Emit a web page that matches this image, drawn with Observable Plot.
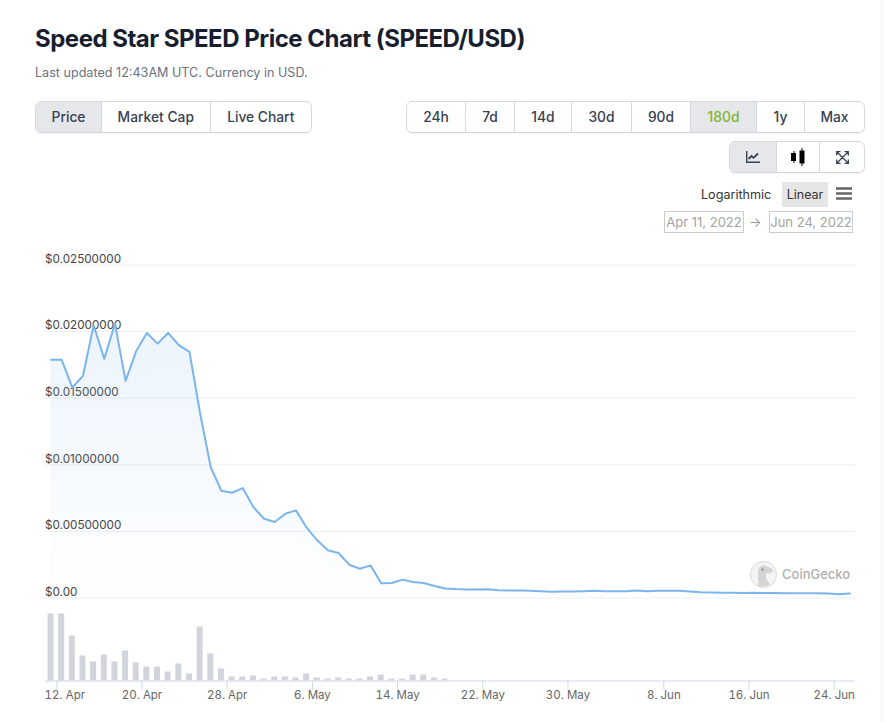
<!DOCTYPE html>
<html><head><meta charset="utf-8">
<script src="https://cdn.jsdelivr.net/npm/d3@7"></script>
<script src="https://cdn.jsdelivr.net/npm/@observablehq/plot@0.6"></script>
<style>
html,body{margin:0;padding:0;background:#fff;width:884px;height:722px;overflow:hidden;font-family:Inter,sans-serif;}
.a{position:absolute;white-space:nowrap;}
.grp{position:absolute;display:flex;box-sizing:border-box;height:32px;border:1px solid #d5d8df;border-radius:6px;overflow:hidden;box-shadow:0 1px 1px rgba(0,0,0,.04);background:#fff;}
.grp div{box-sizing:border-box;height:100%;display:flex;align-items:center;justify-content:center;font-size:13.8px;font-weight:500;color:#374151;border-right:1px solid #d5d8df;}
.grp div:last-child{border-right:none;}
.on{background:#e5e7eb;}
.date{position:absolute;box-sizing:border-box;top:211px;height:22px;border:1px solid #ccc;font-size:13px;color:#a3a3a3;text-align:center;line-height:20px;}
svg{display:block;}
</style></head><body>
<div class="a" style="left:35px;top:23px;font-size:24px;line-height:32px;font-weight:700;color:#171e2e;letter-spacing:-.5px">Speed Star SPEED Price Chart (SPEED/USD)</div>
<div class="a" style="left:35px;top:65px;font-size:12.6px;line-height:16px;color:#6b7280">Last updated 12:43AM UTC. Currency in USD.</div>

<div class="grp" style="left:35px;top:101px;width:277px">
<div class="on" style="width:66px">Price</div><div style="width:108.5px">Market Cap</div><div style="flex:1">Live Chart</div></div>

<div class="grp" style="left:406px;top:101px;width:459px">
<div style="width:59px">24h</div><div style="width:49px">7d</div><div style="width:57px">14d</div><div style="width:60px">30d</div><div style="width:59px">90d</div><div class="on" style="width:66px;color:#85b52f">180d</div><div style="width:48px">1y</div><div style="flex:1">Max</div></div>

<div class="grp" style="left:729px;top:141px;width:136px">
<div class="on" style="width:47px"><svg width="14" height="12" viewBox="0 0 14 12"><path d="M.7 0V11.3H14" fill="none" stroke="#374151" stroke-width="1.4"/><path d="M2.5 8 5.5 5 7.500 6.800 12 2.500" fill="none" stroke="#374151" stroke-width="1.800"/></svg></div>
<div style="width:43px"><svg width="15" height="18" viewBox="0 0 15 18"><path d="M3 3V15M11 0V18" stroke="#000" stroke-width="1"/><rect x="0" y="5" width="5" height="8" fill="#000"/><rect x="8.500" y="2.500" width="5" height="13" fill="#000"/></svg></div>
<div style="flex:1"><svg width="13" height="13" viewBox="0 0 13 13"><path d="M1 1 12 12M12 1 1 12M.7 4.500V.7H4.500M8.500.7H12.300V4.500M.7 8.500V12.300H4.500M8.500 12.300H12.300V8.500" fill="none" stroke="#374151" stroke-width="1.300"/></svg></div></div>

<div class="a" style="left:701px;top:186px;font-size:12.6px;line-height:17px;color:#333">Logarithmic</div>
<div class="a" style="left:782px;top:182px;width:46px;height:25px;background:#e6e6e6;font-size:12.5px;line-height:25px;text-align:center;color:#333">Linear</div>
<div class="a" style="left:836px;top:186.5px;width:16px;height:13px"><svg width="16" height="13"><path d="M0 1.500H16M0 6.500H16M0 11.500H16" stroke="#666" stroke-width="2.400"/></svg></div>
<div class="date" style="left:664px;width:80px">Apr 11, 2022</div>
<div class="a" style="left:749px;top:214px;font-size:13px;line-height:16px;color:#999">→</div>
<div class="date" style="left:769px;width:84px">Jun 24, 2022</div>

<div id="price" class="a" style="left:0;top:250px"></div>
<div id="volume" class="a" style="left:0;top:600px"></div>

<div class="a" style="left:750px;top:561px;width:27px;height:27px"><svg width="27" height="27" viewBox="0 0 27 27"><circle cx="13.500" cy="13.500" r="13" fill="#f4f4f4" stroke="#d8d8d8"/><path d="M8 25C9 17 7 11 9 7 11 4 15 4 17 6 20 6 23 8 23 10 22 12 18 12.500 16 12 15 16 17 20 20 23 16 26 11 26 8 25Z" fill="#d4d4d4"/><circle cx="12.500" cy="8.500" r="1.300" fill="#9a9a9a"/></svg></div>
<div class="a" style="left:782px;top:566px;font-size:13px;line-height:16px;color:#b0b0b0;font-weight:500">CoinGecko</div>
<div class="a" style="left:880px;top:0;width:4px;height:722px;background:#fafafa"></div>

<script>
const firstDay = "2022-04-11";
const lastDayExclusive = "2022-06-26";
const prices = [0.01788,0.01788,0.0158,0.01668,0.02048,0.01795,0.0206,0.0163,0.01855,0.0199,0.0191,0.0199,0.01898,0.01848,0.01385,0.0098,0.00805,0.0079,0.00825,
0.00683,0.00595,0.0057,0.00633,0.00658,0.00528,0.00433,0.00358,0.00338,0.0025,0.0022,0.00245,0.0011,0.00113,0.00138,0.0012,0.00113,0.0009,0.00072,0.00067,
0.00064,0.00064,0.00066,0.00059,0.00056,0.00056,0.00054,0.00051,0.00046,0.00049,0.00049,0.00051,0.00054,0.00051,0.00051,0.00051,0.00056,0.00051,0.00054,
0.00054,0.00055,0.00049,0.00043,0.00041,0.0004,0.00039,0.00037,0.00039,0.00038,0.00037,0.00036,0.00036,0.00036,0.00035,0.00034,0.00029,0.00033];
const volumes = [67,67,45,25,19,26,19,30,18,14,14,9,17,7,54,27,12,4,4,5,2,4,4,3,7,3,2,3,2,2,4,6,2,2,6,6,3,2];
const priceTicks = [0,0.005,0.01,0.015,0.02,0.025];
const xTickDays = ["2022-04-12","2022-04-20","2022-04-28","2022-05-06","2022-05-14","2022-05-22","2022-05-30","2022-06-08","2022-06-16","2022-06-24"];

const days = d3.utcDay.range(new Date(firstDay), new Date(lastDayExclusive));
const stamp = d => d3.utcHour.offset(d, 11);
const priceData = prices.map((p,i)=>({date:stamp(days[i]),price:p}));
const volumeData = volumes.map((v,i)=>({date:stamp(days[i]),volume:v}));
const xDomain = [new Date("2022-04-10T22:30:00Z"), new Date("2022-06-26T00:00:00Z")];
const xTicks = xTickDays.map(d=>new Date(d));
const fmtPrice = d => d===0 ? "$0.00" : "$"+d.toFixed(8);
const fmtDay = d3.utcFormat("%-d. %b");
const W = 884, ml = 45, mr = 29;
const gradient = () => {
  const defs = d3.create("svg:defs");
  const g = defs.append("linearGradient").attr("id","areaFill").attr("x1",0).attr("y1",0).attr("x2",0).attr("y2",1);
  g.append("stop").attr("offset","0%").attr("stop-color","#7cb5ec").attr("stop-opacity",0.15);
  g.append("stop").attr("offset","100%").attr("stop-color","#7cb5ec").attr("stop-opacity",0.005);
  return defs.node();
};
const base = {background:"transparent",fontFamily:"Inter,sans-serif",overflow:"visible"};

document.getElementById("price").append(Plot.plot({
  width:W,height:350,marginLeft:ml,marginRight:mr,marginTop:14.5,marginBottom:2.5,style:base,
  x:{type:"utc",domain:xDomain,axis:null},
  y:{domain:[0,0.025],axis:null},
  marks:[
    gradient,
    Plot.ruleY(priceTicks,{stroke:"#edeff2",strokeWidth:1}),
    Plot.text(priceTicks,{y:d=>d,text:fmtPrice,frameAnchor:"left",textAnchor:"start",dx:-0.5,dy:-6,fontSize:11.7,fill:"#444"}),
    Plot.areaY(priceData,{x:"date",y:"price",fill:"url(#areaFill)"}),
    Plot.line(priceData,{x:"date",y:"price",stroke:"#7cb5ec",strokeWidth:2})
  ]
}));

const halfBar = 13.5*3600*1000/2;
document.getElementById("volume").append(Plot.plot({
  width:W,height:122,marginLeft:ml,marginRight:mr,marginTop:13.5,marginBottom:41.5,style:base,
  x:{type:"utc",domain:xDomain,axis:null},
  y:{domain:[0,67],axis:null},
  marks:[
    Plot.rectY(volumeData,{x1:d=>new Date(+d.date-halfBar),x2:d=>new Date(+d.date+halfBar),y:"volume",fill:"#d1d5db"}),
    Plot.ruleY([0],{stroke:"#ccd6eb",strokeWidth:1}),
    Plot.axisX({ticks:xTicks.slice(1),tickSize:9,tickPadding:1,stroke:"#ccd6eb",fill:"#666",tickFormat:fmtDay,fontSize:11.5,label:null}),
    Plot.axisX({ticks:xTicks.slice(0,1),tickSize:9,stroke:"#ccd6eb",tickFormat:()=>"",label:null}),
    Plot.axisX({ticks:xTicks.slice(0,1),tickSize:0,tickPadding:10,dx:8,fill:"#666",tickFormat:fmtDay,fontSize:11.5,label:null})
  ]
}));
</script>
</body></html>
